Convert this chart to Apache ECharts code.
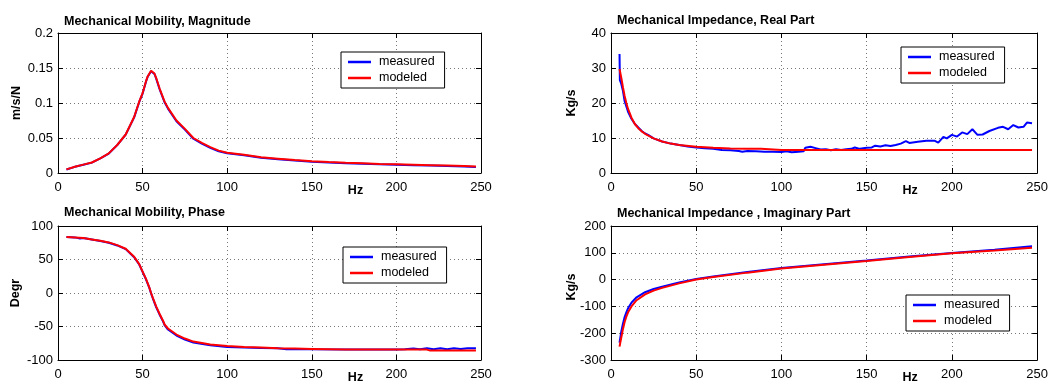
<!DOCTYPE html>
<html>
<head>
<meta charset="utf-8">
<script src="https://cdn.jsdelivr.net/npm/echarts@6/dist/echarts.min.js"></script>
<style>
  html, body { margin: 0; padding: 0; background: #fff; }
  #chart { width: 1051px; height: 385px; }
</style>
</head>
<body>
<div id="chart"></div>
<script>
// Mechanical Mobility, Magnitude (m/s/N)
const magFreq = [5, 10, 15, 20, 25, 30, 35, 40, 45, 48, 50, 52, 53, 55, 56, 57, 58, 60, 63, 65, 70, 75, 80, 85, 90, 95, 100, 110, 120, 130, 140, 150, 160, 170, 180, 190, 200, 210, 220, 230, 240, 247]
const magModeled = [0.0052, 0.009, 0.012, 0.0150, 0.021, 0.028, 0.040, 0.055, 0.080, 0.102, 0.114, 0.131, 0.138, 0.146, 0.146, 0.142, 0.136, 0.121, 0.102, 0.093, 0.075, 0.063, 0.050, 0.043, 0.037, 0.032, 0.0290, 0.0260, 0.0225, 0.0205, 0.0185, 0.0168, 0.0156, 0.0146, 0.0138, 0.0130, 0.0124, 0.0118, 0.0112, 0.0106, 0.0099, 0.0092]
const magMeasured = [0.0050, 0.0088, 0.0118, 0.0148, 0.0208, 0.0278, 0.0398, 0.0548, 0.0795, 0.1015, 0.1135, 0.1305, 0.1375, 0.1455, 0.1455, 0.1415, 0.1350, 0.1200, 0.1010, 0.0920, 0.0740, 0.0620, 0.0490, 0.0420, 0.0360, 0.0310, 0.0282, 0.0252, 0.0218, 0.0198, 0.0178, 0.0162, 0.0150, 0.0140, 0.0133, 0.0125, 0.0119, 0.0112, 0.0106, 0.0100, 0.0093, 0.0086]

// Mechanical Mobility, Phase (Degr)
const phFreq = [5, 10, 15, 20, 25, 30, 35, 40, 45, 48, 50, 52, 54, 55, 56, 58, 60, 62, 63, 65, 70, 75, 80, 90, 100, 110, 120, 130, 140, 150, 170, 200, 218, 220, 247]
const phModeled = [83.5, 83, 82, 80, 78, 75.5, 71.5, 66, 54, 43, 32, 21, 8, 0, -7, -20, -31, -41, -47, -53, -62, -68, -72.5, -77, -79, -80.5, -81.5, -82.5, -83, -83.5, -84.5, -84.5, -84.5, -86, -86]
const phMeasFreq = [5, 10, 13, 15, 20, 25, 30, 35, 40, 45, 48, 50, 52, 54, 55, 56, 58, 60, 62, 63, 65, 70, 75, 80, 90, 100, 110, 120, 130, 135, 140, 150, 170, 200, 205, 210, 214, 218, 222, 226, 230, 234, 238, 242, 247]
const phMeasured = [83.5, 83, 81.5, 82, 80, 77.5, 75, 71, 65.5, 53.5, 42.5, 31.5, 20.5, 7.5, -0.5, -7.5, -21, -32, -42, -48, -54.5, -63.5, -69.5, -74, -78, -80.5, -81.5, -82, -82.5, -84, -83.5, -84, -84.5, -84.5, -84, -83, -84, -82.5, -84, -82.5, -84, -82.5, -83.5, -82.5, -82.5]

// Mechanical Impedance, Real Part (Kg/s)
const reFreq = [5, 6, 7, 8, 9, 10, 12, 14, 16, 18, 20, 25, 30, 35, 40, 50, 60, 70, 80, 88, 89, 100, 150, 200, 247]
const reModeled = [29.7, 27.3, 24.5, 22, 20, 18.3, 15.8, 14, 12.8, 11.9, 11.2, 9.9, 9, 8.4, 8, 7.5, 7.2, 7, 6.9, 6.9, 6.6, 6.6, 6.6, 6.6, 6.6]
const reMeasFreq = [5, 5.2, 6, 7, 8, 9, 10, 12, 14, 16, 18, 20, 22, 25, 30, 35, 40, 45, 50, 55, 60, 65, 70, 75, 77, 80, 85, 90, 95, 100, 103, 106, 110, 113, 114, 117, 120, 123, 126, 129, 132, 135, 138, 141, 143, 146, 150, 153, 155, 158, 161, 164, 167, 170, 173, 175, 180, 185, 190, 192, 195, 197, 200, 203, 206, 209, 212, 215, 218, 222, 227, 230, 233, 236, 239, 242, 244, 247]
const reMeasured = [34, 26.5, 25.5, 23.5, 20.5, 19, 17.5, 15.5, 14, 13, 12, 11.3, 10.8, 9.9, 9, 8.4, 8, 7.6, 7.3, 7.1, 6.9, 6.6, 6.5, 6.3, 6.1, 6.3, 6.2, 6.1, 6.1, 6.0, 6.2, 5.9, 6.1, 6.2, 7.2, 7.5, 7.1, 6.7, 6.8, 6.5, 6.8, 6.6, 6.8, 6.9, 7.3, 6.9, 7.2, 7.3, 7.8, 7.6, 7.9, 7.7, 8.0, 8.4, 9.1, 8.6, 8.9, 9.2, 9.2, 8.7, 10.3, 9.9, 10.9, 10.4, 11.6, 11.1, 12.5, 10.9, 11.0, 12.0, 12.9, 13.2, 12.5, 13.7, 13.0, 13.2, 14.4, 14.2]

// Mechanical Impedance, Imaginary Part (Kg/s)
const imFreq = [5, 6, 7, 8, 9, 10, 12, 15, 20, 25, 30, 40, 50, 60, 80, 100, 125, 150, 175, 200, 225, 247]
const imModeled = [-250, -217, -185, -158, -138, -122, -100, -77, -55, -41, -31, -14, 0, 10, 26, 41, 55, 69, 84, 98, 109, 119]
const imMeasured = [-235, -195, -165, -140, -122, -107, -86, -66, -47, -35, -27, -11, 2, 12, 28, 43, 57, 71, 86, 99, 111, 124]

const FONT = '"Liberation Sans", Arial, Helvetica, sans-serif'

const panels = [
  { title: 'Mechanical Mobility, Magnitude', titleTop: 15, yName: 'm/s/N', ymin: 0, ymax: 0.2, step: 0.05,
    rect: { left: 58, top: 33, width: 423, height: 140 }, nameGap: 35, namePad: 0, legend: { left: 341, top: 52 },
    meas: [magFreq, magMeasured], model: [magFreq, magModeled] },
  { title: 'Mechanical Impedance, Real Part', titleTop: 14, yName: 'Kg/s', ymin: 0, ymax: 40, step: 10,
    rect: { left: 611, top: 33, width: 427, height: 140 }, nameGap: 33, namePad: 0, legend: { left: 901, top: 47 },
    meas: [reMeasFreq, reMeasured], model: [reFreq, reModeled] },
  { title: 'Mechanical Mobility, Phase', titleTop: 206, yName: 'Degr', ymin: -100, ymax: 100, step: 50,
    rect: { left: 58, top: 226, width: 423, height: 141 }, nameGap: 36, namePad: 0, legend: { left: 343, top: 247 },
    meas: [phMeasFreq, phMeasured], model: [phFreq, phModeled] },
  { title: 'Mechanical Impedance , Imaginary Part', titleTop: 207, yName: 'Kg/s', ymin: -300, ymax: 200, step: 100,
    rect: { left: 611, top: 226, width: 427, height: 141 }, nameGap: 33, namePad: 12, legend: { left: 906, top: 295 },
    meas: [imFreq, imMeasured], model: [imFreq, imModeled] }
]

const zip = (xs, ys) => xs.map((x, i) => [x, ys[i]])

const axisLine = { show: true, onZero: false, lineStyle: { color: '#000', width: 1 } }
const tick = { show: true, inside: true, length: 5, lineStyle: { color: '#000' } }
const split = { show: true, lineStyle: { color: '#777', width: 1, type: [1, 3] } }
const tickLabel = { color: '#000', fontSize: 13, fontFamily: FONT }
const nameStyle = { fontSize: 12.5, fontWeight: 'bold', color: '#000', fontFamily: FONT }

const option = {
  backgroundColor: '#fff',
  animation: false,
  title: [], legend: [], grid: [], xAxis: [], yAxis: [], series: []
}

panels.forEach((p, i) => {
  option.title.push({
    text: p.title, left: p.rect.left + 6, top: p.titleTop, padding: 0,
    textStyle: { fontSize: 12.5, fontWeight: 'bold', color: '#000', fontFamily: FONT }
  })
  option.grid.push(Object.assign({ containLabel: false }, p.rect))
  option.xAxis.push({
    type: 'value', gridIndex: i, min: 0, max: 250, interval: 50,
    name: 'Hz', nameLocation: 'middle', nameGap: 11, nameMoveOverlap: false,
    nameTextStyle: Object.assign({ padding: [0, 0, 0, 172] }, nameStyle),
    axisLine, axisTick: tick, splitLine: split,
    axisLabel: Object.assign({ margin: 8 }, tickLabel)
  })
  option.xAxis.push({
    type: 'value', gridIndex: i, position: 'top', min: 0, max: 250, interval: 50,
    axisLine, axisTick: tick, splitLine: { show: false }, axisLabel: { show: false }
  })
  option.yAxis.push({
    type: 'value', gridIndex: i, min: p.ymin, max: p.ymax, interval: p.step,
    name: p.yName, nameLocation: 'middle', nameGap: p.nameGap, nameMoveOverlap: false,
    nameTextStyle: Object.assign({ padding: [0, 0, 0, p.namePad] }, nameStyle),
    axisLine, axisTick: tick, splitLine: split,
    axisLabel: Object.assign({ margin: 5 }, tickLabel)
  })
  option.yAxis.push({
    type: 'value', gridIndex: i, position: 'right', min: p.ymin, max: p.ymax, interval: p.step,
    axisLine, axisTick: tick, splitLine: { show: false }, axisLabel: { show: false }
  })
  option.legend.push({
    left: p.legend.left, top: p.legend.top, orient: 'vertical',
    data: ['measured', 'modeled'],
    icon: 'rect', itemWidth: 23, itemHeight: 2.5, itemGap: 2,
    padding: [3, 10, 3, 7],
    borderColor: '#000', borderWidth: 1, backgroundColor: '#fff',
    textStyle: { fontSize: 12.5, color: '#000', fontFamily: FONT, lineHeight: 14, padding: [0, 0, 0, 3] }
  })
  option.series.push({
    name: 'measured', type: 'line', xAxisIndex: 2 * i, yAxisIndex: 2 * i,
    data: zip(p.meas[0], p.meas[1]), showSymbol: false, symbol: 'none',
    lineStyle: { color: '#0000ff', width: 2 }, itemStyle: { color: '#0000ff' }, z: 3
  })
  option.series.push({
    name: 'modeled', type: 'line', xAxisIndex: 2 * i, yAxisIndex: 2 * i,
    data: zip(p.model[0], p.model[1]), showSymbol: false, symbol: 'none',
    lineStyle: { color: '#ff0000', width: 2 }, itemStyle: { color: '#ff0000' }, z: 4
  })
})

const chart = echarts.init(document.getElementById('chart'), null, { renderer: 'canvas' })
chart.setOption(option)
</script>
</body>
</html>
